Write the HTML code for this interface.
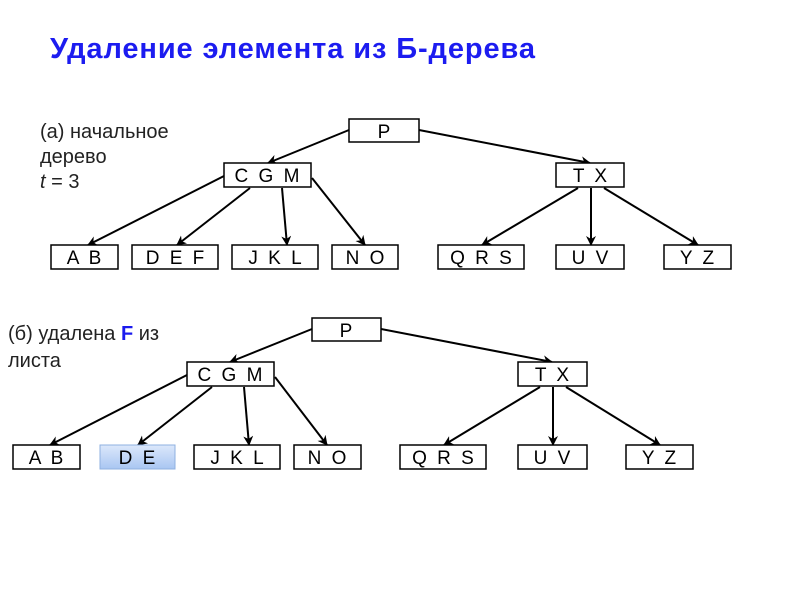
<!DOCTYPE html>
<html><head><meta charset="utf-8"><style>
body{margin:0;width:800px;height:600px;background:#fff;overflow:hidden;font-family:"Liberation Sans","DejaVu Sans",sans-serif}
svg text{font-family:"Liberation Sans","DejaVu Sans",sans-serif}
</style></head><body>
<svg width="800" height="600" xmlns="http://www.w3.org/2000/svg">
<defs>
<marker id="a" markerWidth="10" markerHeight="10" refX="9" refY="5" orient="auto" markerUnits="userSpaceOnUse"><path d="M0,0 L10,5 L0,10 L3,5 z" fill="#000"/></marker>
<linearGradient id="g" x1="0" y1="0" x2="0" y2="1"><stop offset="0" stop-color="#dce8fb"/><stop offset="1" stop-color="#a9c6f2"/></linearGradient>
</defs>
<text x="50" y="58" font-size="29" font-weight="bold" fill="#1c1cf0" letter-spacing="0.9">Удаление элемента из Б-дерева</text>
<text x="40" y="138" font-size="20" fill="#222">(а) начальное</text>
<text x="40" y="163" font-size="20" fill="#222">дерево</text>
<text x="40" y="188" font-size="20" fill="#222"><tspan font-style="italic">t</tspan> = 3</text>
<text x="8" y="340" font-size="20" fill="#222">(б) удалена <tspan fill="#1a1aee" font-weight="bold">F</tspan> из</text>
<text x="8" y="367" font-size="20" fill="#222">листа</text>
<g stroke="#000" stroke-width="2" fill="none" marker-end="url(#a)">
<line x1="349" y1="130" x2="268" y2="163"/>
<line x1="419" y1="130" x2="590" y2="163"/>
<line x1="224" y1="176" x2="88" y2="245"/>
<line x1="250" y1="188" x2="177" y2="245"/>
<line x1="282" y1="188" x2="287" y2="245"/>
<line x1="312" y1="178" x2="365" y2="245"/>
<line x1="578" y1="188" x2="482" y2="245"/>
<line x1="591" y1="188" x2="591" y2="245"/>
<line x1="604" y1="188" x2="698" y2="245"/>
<line x1="312" y1="329" x2="230" y2="362"/>
<line x1="381" y1="329" x2="552" y2="362"/>
<line x1="187" y1="375" x2="50" y2="445"/>
<line x1="212" y1="387" x2="138" y2="445"/>
<line x1="244" y1="387" x2="249" y2="445"/>
<line x1="275" y1="377" x2="327" y2="445"/>
<line x1="540" y1="387" x2="444" y2="445"/>
<line x1="553" y1="387" x2="553" y2="445"/>
<line x1="566" y1="387" x2="660" y2="445"/>
</g>
<g stroke="#000" stroke-width="1.5" fill="#fff">
<rect x="349" y="119" width="70" height="23"/>
<rect x="224" y="163" width="87" height="24"/>
<rect x="556" y="163" width="68" height="24"/>
<rect x="51" y="245" width="67" height="24"/>
<rect x="132" y="245" width="86" height="24"/>
<rect x="232" y="245" width="86" height="24"/>
<rect x="332" y="245" width="66" height="24"/>
<rect x="438" y="245" width="86" height="24"/>
<rect x="556" y="245" width="68" height="24"/>
<rect x="664" y="245" width="67" height="24"/>
<rect x="312" y="318" width="69" height="23"/>
<rect x="187" y="362" width="87" height="24"/>
<rect x="518" y="362" width="69" height="24"/>
<rect x="13" y="445" width="67" height="24"/>
<rect x="194" y="445" width="86" height="24"/>
<rect x="294" y="445" width="67" height="24"/>
<rect x="400" y="445" width="86" height="24"/>
<rect x="518" y="445" width="69" height="24"/>
<rect x="626" y="445" width="67" height="24"/>
</g>
<rect x="100" y="445" width="75" height="24" fill="url(#g)" stroke="#8fb0e0" stroke-width="1"/>
<g font-size="19" fill="#000" text-anchor="middle" word-spacing="5">
<text x="384" y="138">P</text>
<text x="267" y="182">C G M</text>
<text x="590" y="182">T X</text>
<text x="84" y="264">A B</text>
<text x="175" y="264">D E F</text>
<text x="275" y="264">J K L</text>
<text x="365" y="264">N O</text>
<text x="481" y="264">Q R S</text>
<text x="590" y="264">U V</text>
<text x="697" y="264">Y Z</text>
<text x="346" y="337">P</text>
<text x="230" y="381">C G M</text>
<text x="552" y="381">T X</text>
<text x="46" y="464">A B</text>
<text x="137" y="464">D E</text>
<text x="237" y="464">J K L</text>
<text x="327" y="464">N O</text>
<text x="443" y="464">Q R S</text>
<text x="552" y="464">U V</text>
<text x="659" y="464">Y Z</text>
</g>
</svg>
</body></html>
